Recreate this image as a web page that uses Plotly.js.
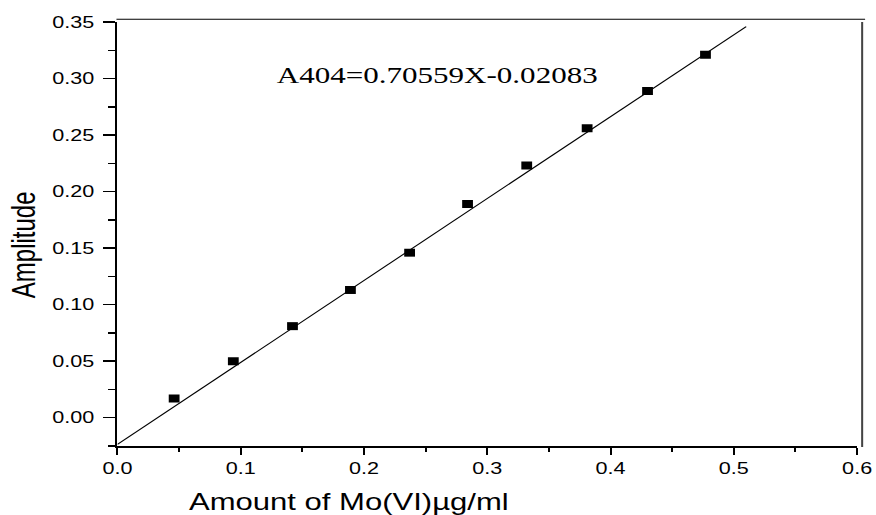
<!DOCTYPE html>
<html>
<head>
<meta charset="utf-8">
<script src="https://cdn.plot.ly/plotly-3.0.1.min.js"></script>
<style>
  html, body { margin: 0; padding: 0; background: #fff; overflow: hidden; }
  #chart { width: 649px; height: 515px; transform: scaleX(1.3498); transform-origin: 0 0; }
</style>
</head>
<body>
<div id="chart"></div>
<script>
// Measured data points (Amount of Mo(VI) µg/ml vs Amplitude)
const amountX = [0.046, 0.094, 0.142, 0.189, 0.237, 0.284, 0.332, 0.381, 0.430, 0.477];
const amplitudeY = [0.017, 0.050, 0.081, 0.113, 0.146, 0.189, 0.223, 0.256, 0.289, 0.321];
// Fitted line as drawn
const fitX = [0, 0.51];
const fitY = [-0.0235, 0.346];
const xTickVals = [0, 0.1, 0.2, 0.3, 0.4, 0.5, 0.6];
const xTickText = ["0.0", "0.1", "0.2", "0.3", "0.4", "0.5", "0.6"];
const yTickVals = [0, 0.05, 0.10, 0.15, 0.20, 0.25, 0.30, 0.35];
const yTickText = ["0.00", "0.05", "0.10", "0.15", "0.20", "0.25", "0.30", "0.35"];
const equationText = "A404=0.70559X-0.02083";
const xTitle = "Amount of Mo(VI)µg/ml";
const yTitle = "Amplitude";

const tickFont = { family: "Liberation Sans, Arial, sans-serif", size: 16, color: "#000" };

const traces = [
  {
    x: fitX, y: fitY, mode: "lines", type: "scatter",
    line: { color: "#000", width: 1 }, hoverinfo: "skip", showlegend: false
  },
  {
    x: amountX, y: amplitudeY, mode: "markers", type: "scatter",
    marker: { symbol: "square", size: 8, color: "#000" }, showlegend: false
  }
];

const layout = {
  width: 649, height: 515,
  margin: { l: 87, r: 14, t: 22, b: 69 },
  paper_bgcolor: "#fff", plot_bgcolor: "#fff",
  showlegend: false,
  xaxis: {
    range: [0, 0.6], tickvals: xTickVals, ticktext: xTickText,
    showgrid: false, zeroline: false,
    showline: true, linecolor: "#000", linewidth: 2,
    ticks: "outside", ticklen: 7, tickwidth: 1.5, tickcolor: "#000",
    minor: { dtick: 0.05, tick0: 0, ticks: "outside", ticklen: 4, tickwidth: 1.5, tickcolor: "#000", showgrid: false },
    tickfont: tickFont
  },
  yaxis: {
    range: [-0.025, 0.35], tickvals: yTickVals, ticktext: yTickText,
    showgrid: false, zeroline: false,
    showline: true, linecolor: "#000", linewidth: 2,
    ticks: "outside", ticklen: 9, tickwidth: 1.5, tickcolor: "#000",
    minor: { dtick: 0.025, tick0: 0, ticks: "outside", ticklen: 5, tickwidth: 1.5, tickcolor: "#000", showgrid: false },
    tickfont: tickFont, ticklabelstandoff: 3
  },
  shapes: [
    { type: "line", xref: "paper", yref: "paper", x0: -0.0013, x1: 1.0108, y0: 1.0065, y1: 1.0065,
      line: { color: "#000", width: 1 } },
    { type: "line", xref: "paper", yref: "paper", x0: 1.0068, x1: 1.0068, y0: -0.0024, y1: 1.0,
      line: { color: "#444", width: 1.5 } }
  ],
  annotations: [
    { text: equationText, x: 0.2593, y: 0.303, xref: "x", yref: "y", showarrow: false,
      xanchor: "center", yanchor: "middle",
      font: { family: "Liberation Serif, Times New Roman, serif", size: 23, color: "#000" } },
    { text: xTitle, x: 0.3135, y: -0.131, xref: "paper", yref: "paper", showarrow: false,
      xanchor: "center", yanchor: "middle",
      font: { family: "Liberation Sans, Arial, sans-serif", size: 23, color: "#000" } },
    { text: yTitle, x: -0.1275, y: 0.474, xref: "paper", yref: "paper", showarrow: false,
      textangle: -90, xanchor: "center", yanchor: "middle",
      font: { family: "Liberation Sans, Arial, sans-serif", size: 24, color: "#000" } }
  ]
};

Plotly.newPlot("chart", traces, layout, { displayModeBar: false, staticPlot: true });
</script>
</body>
</html>
